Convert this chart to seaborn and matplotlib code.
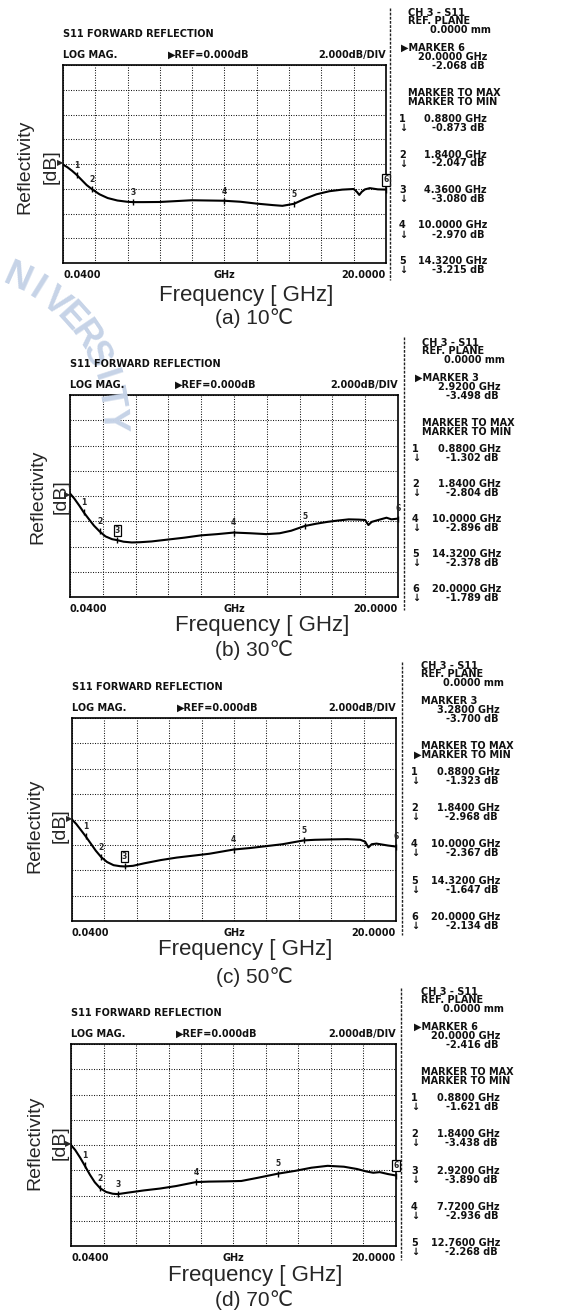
import numpy as np
import seaborn as sns
import matplotlib.pyplot as plt
from matplotlib.lines import Line2D
from matplotlib.transforms import blended_transform_factory

# S11 traces (GHz, dB)
freq_a = [0.04, 0.3, 0.6, 0.88, 1.2, 1.5, 1.84, 2.3, 2.8, 3.4, 4.0, 4.36, 5.0, 6.0, 7.0, 8.0,
          9.0, 10.0, 11.0, 12.0, 13.0, 13.6, 14.32, 15.0, 15.7, 16.5, 17.3, 18.0, 18.2, 18.35,
          18.5, 18.7, 19.0, 19.5, 20.0]
refl_a = [-0.05, -0.25, -0.55, -0.873, -1.3, -1.7, -2.047, -2.45, -2.75, -2.95, -3.05, -3.08,
          -3.08, -3.07, -3.0, -2.93, -2.95, -2.97, -3.05, -3.2, -3.32, -3.38, -3.215, -2.8,
          -2.45, -2.2, -2.07, -2.02, -2.25, -2.5, -2.25, -2.05, -1.95, -2.05, -2.068]

freq_b = [0.04, 0.3, 0.6, 0.88, 1.2, 1.5, 1.84, 2.2, 2.6, 2.92, 3.3, 3.8, 4.3, 5.0, 6.0, 7.0,
          8.0, 9.0, 10.0, 11.0, 12.0, 12.8, 13.5, 14.32, 15.0, 15.7, 16.3, 17.0, 17.6, 18.0,
          18.2, 18.4, 18.8, 19.3, 19.6, 20.0]
refl_b = [0.2, -0.2, -0.75, -1.302, -1.85, -2.35, -2.804, -3.2, -3.42, -3.498, -3.62, -3.68,
          -3.66, -3.6, -3.45, -3.3, -3.12, -3.02, -2.896, -2.95, -3.02, -2.95, -2.75, -2.378,
          -2.2, -2.05, -1.95, -1.85, -1.87, -1.9, -2.3, -2.05, -1.9, -1.72, -1.85, -1.789]

freq_c = [0.04, 0.3, 0.6, 0.88, 1.2, 1.5, 1.84, 2.2, 2.6, 3.0, 3.28, 3.8, 4.5, 5.5, 6.5, 7.5,
          8.5, 10.0, 11.0, 12.0, 13.0, 14.32, 15.0, 16.0, 17.0, 17.8, 18.1, 18.3, 18.5, 18.8,
          19.5, 20.0]
refl_c = [0.0, -0.35, -0.85, -1.323, -1.9, -2.45, -2.968, -3.35, -3.6, -3.68, -3.7, -3.65,
          -3.45, -3.2, -3.0, -2.85, -2.7, -2.367, -2.25, -2.1, -1.95, -1.647, -1.6, -1.57,
          -1.55, -1.6, -1.75, -2.2, -1.95, -1.9, -2.05, -2.134]

freq_d = [0.04, 0.3, 0.6, 0.88, 1.2, 1.5, 1.84, 2.2, 2.6, 2.92, 3.5, 4.5, 5.5, 6.5, 7.72, 8.5,
          9.5, 10.5, 11.5, 12.76, 13.8, 14.8, 15.8, 16.8, 17.6, 18.2, 18.6, 19.0, 19.5, 20.0]
refl_d = [0.0, -0.4, -1.0, -1.621, -2.35, -2.95, -3.438, -3.72, -3.86, -3.89, -3.78, -3.6,
          -3.45, -3.25, -2.936, -2.9, -2.88, -2.85, -2.6, -2.268, -2.05, -1.8, -1.65, -1.72,
          -1.9, -2.1, -2.2, -2.15, -2.3, -2.416]

# markers 1..6 on each trace
mk_freq_a = [0.88, 1.84, 4.36, 10.0, 14.32, 20.0]
mk_db_a = [-0.873, -2.047, -3.080, -2.970, -3.215, -2.068]
mk_freq_b = [0.88, 1.84, 2.92, 10.0, 14.32, 20.0]
mk_db_b = [-1.302, -2.804, -3.498, -2.896, -2.378, -1.789]
mk_freq_c = [0.88, 1.84, 3.28, 10.0, 14.32, 20.0]
mk_db_c = [-1.323, -2.968, -3.700, -2.367, -1.647, -2.134]
mk_freq_d = [0.88, 1.84, 2.92, 7.72, 12.76, 20.0]
mk_db_d = [-1.621, -3.438, -3.890, -2.936, -2.268, -2.416]

active_marker = [6, 3, 3, 6]
listed_markers = [[1, 2, 3, 4, 5], [1, 2, 4, 5, 6], [1, 2, 4, 5, 6], [1, 2, 3, 4, 5]]
min_arrow = [False, False, True, False]
captions = ['(a) 10℃', '(b) 30℃', '(c) 50℃', '(d) 70℃']

traces = [(freq_a, refl_a), (freq_b, refl_b), (freq_c, refl_c), (freq_d, refl_d)]
markers = [(mk_freq_a, mk_db_a), (mk_freq_b, mk_db_b), (mk_freq_c, mk_db_c), (mk_freq_d, mk_db_d)]

# layout in pixels (left, top, right, bottom) of each grid box
W, H = 566, 1311
boxes = [(63, 65, 386, 263), (70, 395, 398, 597), (72, 718, 396, 921), (71, 1044, 396, 1246)]
ch_x = [408, 422, 421, 421]
num_x = [399, 412, 411, 411]
sep_x = [390, 404, 402, 401]
sep_y = [(8, 280), (337, 610), (662, 935), (988, 1260)]
row_step = [35.5, 35, 36.2, 36.3]
refl_x = [25, 38, 35, 35]
db_x = [51, 61, 60, 60]
ylab_y = [167, 497, 826, 1143]
freq_lab = [(246, 296), (262, 625), (245, 950), (255, 1275)]
cap_y = [318, 650, 977, 1300]

sns.set_theme(style='white')
plt.rcParams['font.family'] = ['Liberation Sans', 'DejaVu Sans']
INSTR = ['DejaVu Sans']
MS = 7.0
INK = '#111111'


def fx(x):
    return x / W


def fy(y):
    return 1 - y / H


def instr(x, y, s, ha='left', size=MS):
    fig.text(fx(x), fy(y), s, ha=ha, va='center', family=INSTR, weight='bold',
             fontsize=size, color=INK)


fig = plt.figure(figsize=(W / 100, H / 100), dpi=100)

# faint university seal lettering on the left
cx, cy, r = -48, 425, 160
for k, ch in enumerate('NIVERSITY'):
    ang = np.deg2rad(66 - 8.0 * k)
    px, py = cx + r * np.cos(ang), cy - r * np.sin(ang)
    fig.text(fx(px), fy(py), ch, ha='center', va='center', fontsize=26, weight='bold',
             color='#c6d3e7', rotation=np.rad2deg(ang) - 90, zorder=0)

for i in range(4):
    l, t, rr, b = boxes[i]
    ax = fig.add_axes([fx(l), fy(b), (rr - l) / W, (b - t) / H])
    ax.patch.set_alpha(0)
    f, v = traces[i]
    sns.lineplot(x=f, y=v, ax=ax, color='black', lw=1.5)
    ax.set_xlim(0.04, 20.0)
    ax.set_ylim(-8, 8)
    ax.set_xticks(np.linspace(0.04, 20.0, 11))
    ax.set_yticks(np.arange(-8, 9, 2))
    ax.set_xticklabels(['0.0400'] + [''] * 4 + ['GHz'] + [''] * 4 + ['20.0000'],
                       family=INSTR, weight='bold', fontsize=MS, color=INK)
    ax.set_yticklabels([])
    lab = ax.get_xticklabels()
    lab[0].set_ha('left')
    lab[-1].set_ha('right')
    ax.tick_params(length=0, pad=5)
    ax.grid(True, color='#1a1a1a', ls=(0, (1, 1.4)), lw=0.75)
    for sp in ax.spines.values():
        sp.set_color('black')
        sp.set_linewidth(1.2)
    ax.set_xlabel('')
    ax.set_ylabel('')

    # reference position pointer
    tr = blended_transform_factory(ax.transAxes, ax.transData)
    ax.text(0, 0, '▶', transform=tr, ha='right', va='center', fontsize=6)

    # markers on the trace
    mf, mv = markers[i]
    for n, (xf, yv) in enumerate(zip(mf, mv), start=1):
        ax.plot([xf], [yv], marker='|', ms=5, mew=1.0, color='black', clip_on=False)
        kw = dict(xy=(xf, yv), xytext=(0, 7), textcoords='offset points', ha='center',
                  va='center', fontsize=5.5, family=INSTR, weight='bold', annotation_clip=False)
        if n == active_marker[i]:
            kw['bbox'] = dict(boxstyle='square,pad=0.15', fc='white', ec='black', lw=0.9)
        ax.annotate(str(n), **kw)

    # header above the grid
    instr(l, t - 31, 'S11 FORWARD REFLECTION')
    instr(l, t - 10, 'LOG MAG.')
    instr(l + 105, t - 10, '▶REF=0.000dB')
    instr(rr, t - 10, '2.000dB/DIV', ha='right')

    # axis titles
    fig.text(fx(refl_x[i]), fy(ylab_y[i]), 'Reflectivity', rotation=90, ha='center',
             va='center', fontsize=14)
    fig.text(fx(db_x[i]), fy(ylab_y[i]), '[dB]', rotation=90, ha='center', va='center',
             fontsize=14)
    fig.text(fx(freq_lab[i][0]), fy(freq_lab[i][1]), 'Frequency [ GHz]', ha='center',
             va='center', fontsize=16)
    fig.text(fx(254), fy(cap_y[i]), captions[i], ha='center', va='center', fontsize=15)

    # paper edge separator
    fig.add_artist(Line2D([fx(sep_x[i])] * 2, [fy(sep_y[i][0]), fy(sep_y[i][1])],
                          color='#222222', lw=1.0, ls=(0, (2, 1))))

    # annotation block on the right
    x0 = ch_x[i]
    xr = x0 + 79
    am = active_marker[i] - 1
    instr(x0, t - 52, 'CH 3 - S11')
    instr(x0, t - 44, 'REF. PLANE')
    instr(xr + 4, t - 35, '0.0000 mm', ha='right')
    if i == 2:
        instr(x0, t - 17, f'MARKER {active_marker[i]}')
    else:
        instr(x0 - 7, t - 17, f'▶MARKER {active_marker[i]}')
    instr(xr, t - 8, f'{mf[am]:.4f} GHz', ha='right')
    instr(xr - 2, t + 1, f'{mv[am]:.3f} dB', ha='right')
    instr(x0, t + 28, 'MARKER TO MAX')
    if min_arrow[i]:
        instr(x0 - 7, t + 37, '▶MARKER TO MIN')
    else:
        instr(x0, t + 37, 'MARKER TO MIN')
    for k, n in enumerate(listed_markers[i]):
        yy = t + 54 + k * row_step[i]
        instr(num_x[i], yy, str(n))
        instr(xr, yy, f'{mf[n - 1]:.4f} GHz', ha='right')
        instr(num_x[i], yy + 9, '↓')
        instr(xr - 2, yy + 9, f'{mv[n - 1]:.3f} dB', ha='right')

fig.savefig('out.png', dpi=100, facecolor='white')
